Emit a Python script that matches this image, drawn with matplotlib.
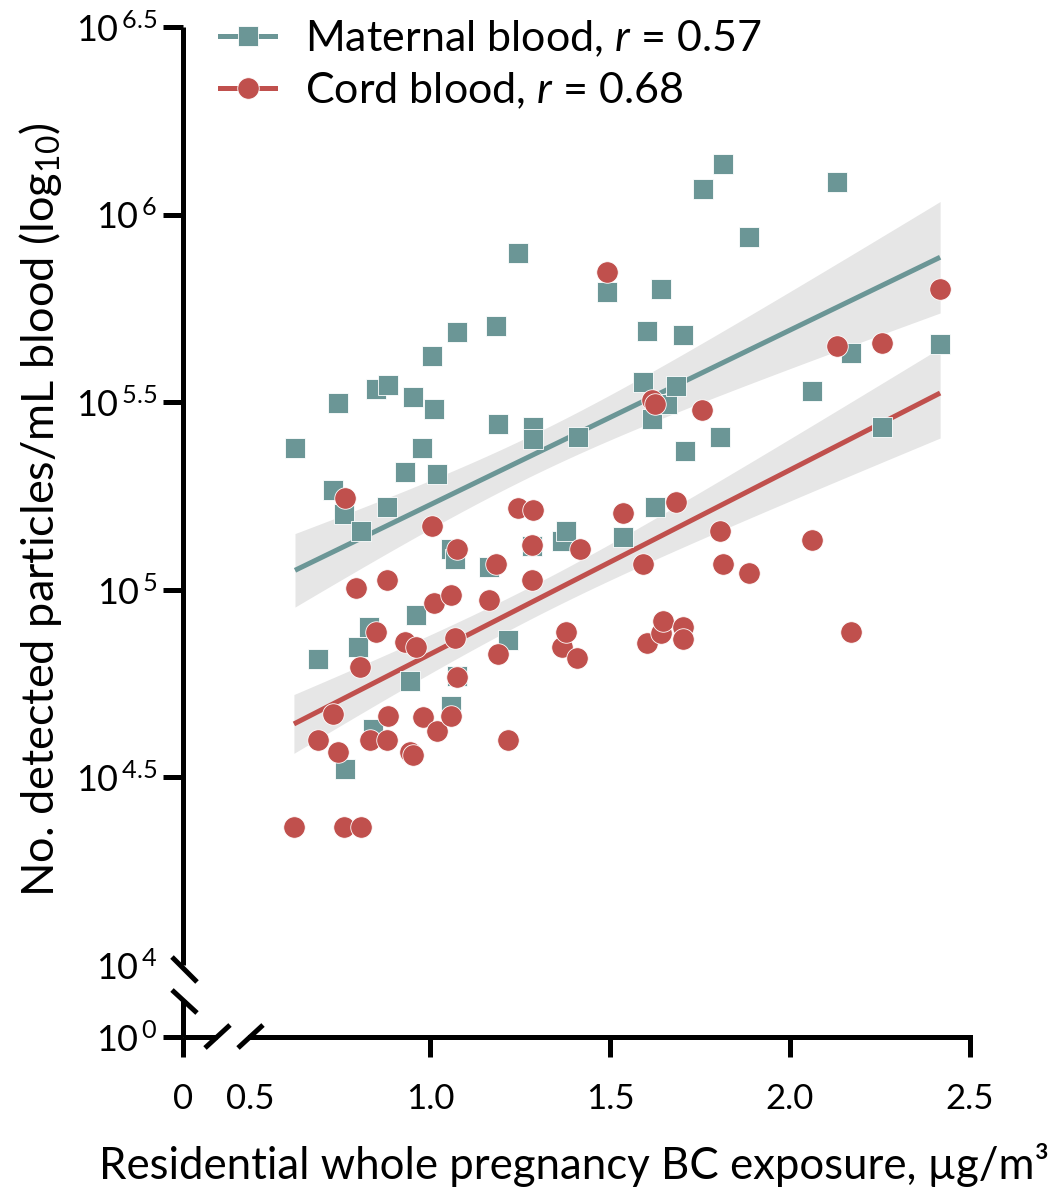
import numpy as np
import matplotlib
matplotlib.use("Agg")
import matplotlib.pyplot as plt
from matplotlib.lines import Line2D
from matplotlib.ticker import FixedLocator, FixedFormatter

plt.rcParams['font.family'] = ['Lato', 'DejaVu Sans']
plt.rcParams['mathtext.fontset'] = 'custom'
plt.rcParams['mathtext.rm'] = 'Lato'
plt.rcParams['mathtext.it'] = 'Lato:italic'
plt.rcParams['mathtext.bf'] = 'Lato:bold'

# ---------------- data (BC exposure, log10 particles/mL) ----------------
maternal_bc = [0.625, 0.689, 0.731, 0.744, 0.761, 0.764, 0.800, 0.831, 0.808, 0.842,
               0.850, 0.883, 0.881, 0.931, 0.953, 0.944, 0.961, 0.978, 1.006, 1.011,
               1.019, 1.058, 1.058, 1.069, 1.075, 1.075, 1.164, 1.183, 1.189, 1.217,
               1.244, 1.286, 1.286, 1.283, 1.367, 1.378, 1.411, 1.492, 1.536, 1.592,
               1.603, 1.617, 1.625, 1.642, 1.658, 1.683, 1.703, 1.708, 1.758, 1.806,
               1.814, 1.886, 2.061, 2.131, 2.169, 2.256, 2.417]
maternal_log = [5.379, 4.815, 5.265, 5.499, 5.201, 4.522, 4.847, 4.900, 5.158, 4.629,
                5.534, 5.547, 5.220, 5.313, 5.513, 4.756, 4.932, 5.377, 5.622, 5.481,
                5.310, 5.108, 4.690, 5.081, 5.688, 4.770, 5.060, 5.704, 5.441, 4.865,
                5.899, 5.435, 5.401, 5.116, 5.129, 5.156, 5.406, 5.795, 5.142, 5.553,
                5.691, 5.454, 5.220, 5.803, 5.494, 5.542, 5.680, 5.369, 6.069, 5.406,
                6.136, 5.939, 5.531, 6.088, 5.632, 5.435, 5.654]

cord_bc = [0.622, 0.689, 0.731, 0.744, 0.761, 0.764, 0.794, 0.806, 0.808, 0.833,
           0.850, 0.881, 0.881, 0.883, 0.931, 0.944, 0.953, 0.961, 0.981, 1.006,
           1.011, 1.019, 1.058, 1.058, 1.069, 1.075, 1.075, 1.164, 1.183, 1.189,
           1.217, 1.244, 1.286, 1.283, 1.283, 1.367, 1.378, 1.408, 1.417, 1.492,
           1.536, 1.592, 1.603, 1.617, 1.625, 1.642, 1.647, 1.683, 1.703, 1.703,
           1.756, 1.806, 1.814, 1.886, 2.061, 2.131, 2.169, 2.256, 2.417]
cord_log = [4.368, 4.599, 4.668, 4.567, 4.368, 5.246, 5.004, 4.794, 4.368, 4.599,
            4.887, 5.025, 4.599, 4.663, 4.860, 4.567, 4.559, 4.847, 4.660, 5.169,
            4.964, 4.623, 4.985, 4.663, 4.871, 5.108, 4.767, 4.972, 5.068, 4.828,
            4.599, 5.217, 5.212, 5.119, 5.025, 4.847, 4.887, 4.818, 5.108, 5.846,
            5.204, 5.068, 4.858, 5.507, 5.494, 4.884, 4.916, 5.233, 4.900, 4.868,
            5.478, 5.158, 5.068, 5.044, 5.134, 5.651, 4.887, 5.659, 5.803]

# fitted lines: (intercept, slope) in log10 units
maternal_fit = (4.761, 0.4656)
cord_fit = (4.337, 0.4913)

series_labels = [r'Maternal blood, $\mathit{r}$ = 0.57', r'Cord blood, $\mathit{r}$ = 0.68']
x_ticks = [0, 0.5, 1.0, 1.5, 2.0, 2.5]
x_ticklabels = ['0', '0.5', '1.0', '1.5', '2.0', '2.5']
y_tick_exps = [0, 4, 4.5, 5, 5.5, 6, 6.5]
y_ticklabels = [r'10$^{\,0}$', r'10$^{\,4}$', r'10$^{\,4.5}$', r'10$^{\,5}$',
                r'10$^{\,5.5}$', r'10$^{\,6}$', r'10$^{\,6.5}$']
x_label = 'Residential whole pregnancy BC exposure, \u00b5g/m\u00b3'
y_label = r'No. detected particles/mL blood (log$_{10}$)'

TEAL = '#6B9696'
RED = '#C0504D'
BAND = '#E6E6E6'

# ---------------- broken-axis scales ----------------
XK = 67.0 / 180.0          # 0 -> 0.5 is compressed
def xf(x):
    x = np.asarray(x, float)
    return np.where(x < 0.5, x * XK, 0.5 * XK + (x - 0.5))
def xi(u):
    u = np.asarray(u, float)
    return np.where(u < 0.5 * XK, u / XK, (u - 0.5 * XK) + 0.5)

YK = 72.0 / (4 * 375.5)    # 10^0 -> 10^4 is compressed
def yf(y):
    with np.errstate(all='ignore'):
        ly = np.log10(np.maximum(np.asarray(y, float), 1e-300))
        return np.where(ly < 4, 4 - (4 - ly) * YK, ly)
def yi(v):
    v = np.asarray(v, float)
    with np.errstate(all='ignore'):
        return np.where(v < 4, 10 ** np.clip(4 - (4 - v) / YK, -300, 300), 10 ** np.clip(v, -300, 300))

W, H = 1060, 1193
fig = plt.figure(figsize=(W / 100, H / 100), dpi=100)
ax = fig.add_axes([183 / W, 1 - 1037 / H, (970 - 183) / W, (1037 - 27) / H])
ax.set_xscale('function', functions=(xf, xi))
ax.set_yscale('function', functions=(yf, yi))
ax.set_xlim(0, 2.5)
ax.set_ylim(1, 10 ** 6.5)

# ---------------- regression line with confidence band ----------------
def fit_band(xs, ls, fit, z=1.32):
    xs = np.asarray(xs); ls = np.asarray(ls)
    a, b = fit
    n = len(xs)
    res = ls - (a + b * xs)
    s = np.sqrt(np.sum(res ** 2) / (n - 2))
    xx = np.linspace(xs.min(), xs.max(), 120)
    sxx = np.sum((xs - xs.mean()) ** 2)
    hw = z * s * np.sqrt(1.0 / n + (xx - xs.mean()) ** 2 / sxx)
    return xx, a + b * xx, hw

for xs, ls, fit, col in [(maternal_bc, maternal_log, maternal_fit, TEAL),
                         (cord_bc, cord_log, cord_fit, RED)]:
    xx, yy, hw = fit_band(xs, ls, fit)
    ax.fill_between(xx, 10 ** (yy - hw), 10 ** (yy + hw), color=BAND, lw=0, zorder=1)
    ax.plot(xx, 10 ** yy, color=col, lw=3.6, zorder=2, solid_capstyle='butt')

ax.plot(maternal_bc, 10 ** np.asarray(maternal_log), 's', ms=15, color=TEAL,
        mec='white', mew=0.6, zorder=3, clip_on=False)
ax.plot(cord_bc, 10 ** np.asarray(cord_log), 'o', ms=15.5, color=RED,
        mec='white', mew=0.6, zorder=4, clip_on=False)

# ---------------- axes styling ----------------
for s in ['top', 'right']:
    ax.spines[s].set_visible(False)
ax.spines['left'].set_linewidth(3.6)
ax.spines['bottom'].set_linewidth(3.6)
ax.spines['left'].set_bounds(1e4, 10 ** 6.5)
ax.spines['bottom'].set_bounds(0.5, 2.5)
ax.spines['left'].set_capstyle('butt')

ax.xaxis.set_major_locator(FixedLocator(x_ticks))
ax.xaxis.set_major_formatter(FixedFormatter(x_ticklabels))
ax.yaxis.set_major_locator(FixedLocator([10 ** e for e in y_tick_exps]))
ax.yaxis.set_major_formatter(FixedFormatter(y_ticklabels))
ax.xaxis.set_minor_locator(FixedLocator([]))
ax.yaxis.set_minor_locator(FixedLocator([]))
ax.tick_params(axis='both', direction='out', length=14.4, width=3.6, colors='black')
ax.tick_params(axis='y', labelsize=26, pad=4)
ax.tick_params(axis='x', labelsize=25, pad=19)
ax.yaxis.get_major_ticks()[1].tick1line.set_visible(False)
ax.xaxis.get_major_ticks()[1].tick1line.set_visible(False)

# short axis pieces below / left of the breaks
ax.plot([0, 0], [0, 37 / 1010], transform=ax.transAxes, color='black', lw=3.6,
        clip_on=False, solid_capstyle='butt', zorder=5)
ax.plot([0, 34 / 787], [0, 0], transform=ax.transAxes, color='black', lw=3.6,
        clip_on=False, solid_capstyle='butt', zorder=5)

# break marks (figure pixel positions)
def px(x, y):
    return x / W, 1 - y / H
for (x0, y0, x1, y1) in [(172, 957, 197, 982), (172, 990, 197, 1013),
                         (205, 1048, 230, 1025), (238, 1048, 263, 1025)]:
    a0 = px(x0, y0); a1 = px(x1, y1)
    fig.add_artist(Line2D([a0[0], a1[0]], [a0[1], a1[1]], transform=fig.transFigure,
                          color='black', lw=3.6, solid_capstyle='butt'))

ax.set_xlabel(x_label, fontsize=31.5)
ax.xaxis.set_label_coords(0.497, -0.127)
ax.xaxis.label.set_va('center')
ax.set_ylabel(y_label, fontsize=32.5)
ax.yaxis.set_label_coords(-0.1817, 0.522)
ax.yaxis.label.set_va('center')

handles = [Line2D([], [], color=TEAL, lw=3.6, marker='s', ms=15, mec='white', mew=0.6),
           Line2D([], [], color=RED, lw=3.6, marker='o', ms=15.5, mec='white', mew=0.6)]
ax.legend(handles, series_labels, loc='upper left', bbox_to_anchor=(0.047, 1.009),
          frameon=False, fontsize=31, handlelength=1.28, handletextpad=0.7,
          labelspacing=0.28, borderpad=0, borderaxespad=0)

fig.savefig('out.png', dpi=100)
